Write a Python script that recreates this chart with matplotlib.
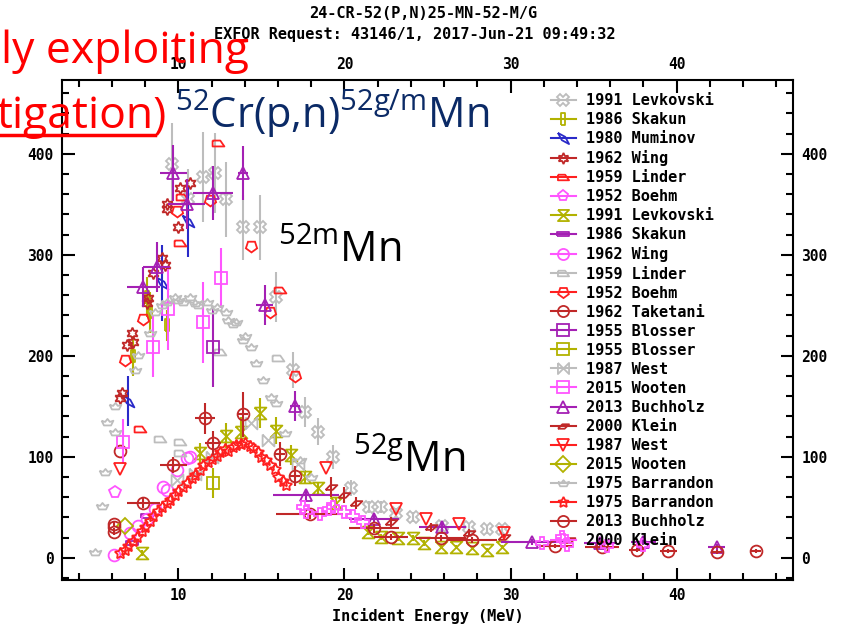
import matplotlib
matplotlib.use('Agg')
import matplotlib.pyplot as plt
from matplotlib.lines import Line2D

# --- data (energy MeV, cross section mb) ---
levk_x = [9.6, 10.6, 11.5, 12.2, 12.9, 13.9, 14.9, 15.9, 16.9, 17.6, 18.4, 19.3, 20.4, 21.5, 22.2, 23.1, 24.1, 25.9, 27.5, 28.6, 29.5]
levk_y = [390, 355, 377, 381, 355, 327, 327, 258, 186, 144, 125, 100, 69, 50, 50, 44, 40, 31, 30, 28, 28]
levk_e = [40, 30, 45, 40, 37, 32, 32, 25, 18, 15, 13, 12, 8, 6, 6, 5, 5, 4, 4, 4, 4]

skak_o_x = [7.3, 8.1, 8.3, 9.3]
skak_o_y = [200, 258, 243, 230]
skak_o_e = [20, 20, 20, 15]

mumi_x = [7.0, 9.0, 10.6]
mumi_y = [155, 272, 333]
mumi_e = [25, 38, 35]

wing_x = [6.5, 6.6, 6.9, 7.2, 7.3, 8.1, 8.2, 8.5, 9.0, 9.2, 9.3, 9.3, 10.0, 10.1, 10.7]
wing_y = [158, 163, 211, 223, 214, 252, 257, 282, 297, 290, 350, 345, 327, 366, 371]

lind_r_x = [7.7, 10.1, 10.2, 12.4, 16.1]
lind_r_y = [127, 312, 357, 411, 265]

boehm_m_x = [6.2]
boehm_m_y = [65]

levk_o_x = [7.8, 11.3, 12.9, 13.8, 14.9, 15.9, 16.8, 17.6, 18.4, 19.5, 21.4, 22.2, 23.2, 24.1, 24.8, 25.8, 26.7, 27.7, 28.6, 29.5]
levk_o_y = [5, 104, 121, 125, 143, 126, 102, 80, 69, 54, 26, 21, 20, 20, 15, 11, 11, 10, 8, 11]
levk_o_e = [3, 10, 12, 14, 15, 13, 10, 7, 6, 5, 3, 3, 3, 3, 3, 2, 2, 2, 2, 2]

skak_p_x = [7.2, 8.1]
skak_p_y = [15, 41]

wing_m_x = [6.1, 7.1, 7.6, 8.1, 8.6, 9.1, 9.3, 9.9, 10.5, 10.7]
wing_m_y = [3, 25, 31, 38, 48, 70, 67, 87, 99, 100]

lind_g_x = [8.9, 10.1, 10.1, 12.5, 16.0]
lind_g_y = [118, 115, 104, 204, 198]

boehm_r_x = [6.8, 7.9, 9.9, 11.9, 14.4, 15.5, 17.0]
boehm_r_y = [196, 236, 343, 354, 309, 243, 180]

take_x = [6.1, 6.5]
take_y = [30, 106]

blos_p_x = [12.1]
blos_p_y = [209]
blos_p_e = [40]

blos_o_x = [12.1]
blos_o_y = [74]
blos_o_e = [15]

west_g_x = [9.9, 11.0, 12.0, 14.4, 15.4, 17.2]
west_g_y = [77, 83, 100, 133, 117, 93]

woot_m_x = [6.7, 8.5, 9.4, 11.5, 12.6]
woot_m_y = [115, 209, 246, 233, 277]
woot_m_e = [22, 30, 40, 40, 30]

buch_p_x = [7.9, 8.7, 9.7, 10.5, 12.1, 13.9, 15.2, 17.0, 17.7, 21.8, 25.9, 31.3, 35.4, 38.0, 42.4]
buch_p_y = [268, 288, 381, 350, 361, 381, 250, 150, 62, 38, 30, 16, 15, 16, 11]
buch_p_ye = [20, 25, 28, 25, 27, 27, 20, 15, 5, 4, 4, 3, 3, 3, 3]
buch_p_xe = [1.0, 0.8, 0.8, 1.1, 1.2, 0.3, 0.5, 0.3, 2.0, 1.5, 1.4, 1.9, 1.0, 0.75, 0.5]

klein_d_x = [19.2, 20.0, 20.7, 22.8, 25.2, 27.5, 29.6, 33.5]
klein_d_y = [70, 62, 54, 35, 30, 25, 21, 18]
klein_d_e = [10, 8, 6, 5, 4, 3, 3, 2]

west_r_x = [6.5, 18.9, 23.1, 24.9, 26.9, 29.6]
west_r_y = [88, 89, 48, 38, 33, 25]

woot_o_x = [6.8]
woot_o_y = [31]

barr_g_x = [5.0, 5.4, 5.6, 5.7, 6.2, 6.2, 7.4, 7.6, 8.3, 8.6, 9.0, 9.3, 9.8, 10.0, 10.3, 10.7, 11.0, 11.2, 11.7, 12.0, 12.3, 12.9, 13.0, 13.3, 13.5, 13.9, 14.0, 14.4, 14.7, 15.1, 15.6, 15.9, 16.4, 17.3, 18.0]
barr_g_y = [6, 51, 85, 134, 125, 150, 186, 201, 223, 243, 250, 253, 258, 255, 253, 258, 252, 250, 253, 245, 248, 243, 235, 231, 233, 216, 220, 209, 193, 176, 159, 153, 124, 97, 80]

barr_r_x = [6.5, 6.8, 7.0, 7.3, 7.5, 7.8, 8.0, 8.3, 8.5, 8.8, 9.0, 9.3, 9.5, 9.8, 10.0, 10.3, 10.5, 10.8, 11.0, 11.3, 11.5, 11.8, 12.0, 12.3, 12.5, 12.8, 13.0, 13.3, 13.5, 13.8, 14.0, 14.3, 14.5, 14.8, 15.0, 15.3, 15.5, 15.8, 16.0, 16.3, 16.5]
barr_r_y = [5, 8, 12, 17, 21, 27, 30, 36, 41, 46, 50, 54, 57, 62, 66, 70, 74, 79, 82, 87, 92, 95, 98, 101, 105, 108, 106, 110, 112, 113, 114, 111, 109, 105, 100, 97, 92, 88, 80, 76, 72]

buch_d_x = [6.1, 6.1, 7.9, 9.7, 11.6, 12.1, 13.9, 16.1, 17.0, 17.9, 21.8, 22.8, 25.8, 27.7, 32.7, 35.5, 37.6, 39.5, 42.4, 44.8]
buch_d_y = [26, 33, 54, 92, 138, 114, 142, 103, 81, 43, 29, 21, 20, 18, 12, 11, 8, 7, 6, 7]
buch_d_ye = [3, 3, 5, 8, 15, 12, 22, 12, 10, 5, 4, 3, 3, 3, 2, 2, 2, 2, 2, 2]
buch_d_xe = [0, 0, 1.0, 0.8, 0.6, 0.5, 0.3, 0.3, 0.3, 2.0, 1.5, 1.0, 1.5, 1.5, 1.0, 1.0, 0.5, 0.5, 0.3, 0.3]

klein_m_x = [17.5, 17.7, 18.5, 19.1, 19.3, 20.0, 20.5, 21.1, 31.9, 33.1, 33.4, 35.8, 38.0]
klein_m_y = [50, 45, 43, 48, 50, 45, 41, 35, 15, 21, 13, 12, 13]

# --- styles ---
GRAY, OLIVE, BLUE = '#bdbdbd', '#b2b200', '#2a2ac8'
DRED, RED, MAG, PURP = '#c02828', '#ff2020', '#ff55ff', '#a420b4'

vrect = [(-0.35, -1), (0.35, -1), (0.35, 1), (-0.35, 1), (-0.35, -1)]
hrect = [(-1, -0.3), (1, -0.3), (1, 0.3), (-1, 0.3), (-1, -0.3)]
hourglass = [(-1, 1), (1, 1), (-1, -1), (1, -1), (-1, 1)]
bowtie = [(-1, 1), (-1, -1), (1, 1), (1, -1), (-1, 1)]
flag = [(-1, 0.5), (0.3, 0.5), (1, -0.5), (-1, -0.5), (-1, 0.5)]
boat = [(-1, 0.3), (-0.4, 0.1), (0, 0.6), (0.4, 0.1), (1, 0.3), (0.6, -0.5), (-0.6, -0.5), (-1, 0.3)]
zig = [(-1, -0.4), (0.2, -0.4), (1, 0.4), (-0.2, 0.4), (-1, -0.4)]
slant = [(-1, 1), (0.3, 0.3), (1, -1), (-0.3, -0.3), (-1, 1)]

series = [
    ('1991 Levkovski', GRAY, 'X', levk_x, levk_y, levk_e, None),
    ('1986 Skakun', OLIVE, vrect, skak_o_x, skak_o_y, skak_o_e, None),
    ('1980 Muminov', BLUE, slant, mumi_x, mumi_y, mumi_e, None),
    ('1962 Wing', DRED, (6, 1, 0), wing_x, wing_y, None, None),
    ('1959 Linder', RED, flag, lind_r_x, lind_r_y, None, None),
    ('1952 Boehm', MAG, 'p', boehm_m_x, boehm_m_y, None, None),
    ('1991 Levkovski', OLIVE, hourglass, levk_o_x, levk_o_y, levk_o_e, None),
    ('1986 Skakun', PURP, hrect, skak_p_x, skak_p_y, None, None),
    ('1962 Wing', MAG, 'o', wing_m_x, wing_m_y, None, None),
    ('1959 Linder', GRAY, flag, lind_g_x, lind_g_y, None, None),
    ('1952 Boehm', RED, (5, 0, 180), boehm_r_x, boehm_r_y, None, None),
    ('1962 Taketani', DRED, 'o', take_x, take_y, None, None),
    ('1955 Blosser', PURP, 's', blos_p_x, blos_p_y, blos_p_e, None),
    ('1955 Blosser', OLIVE, 's', blos_o_x, blos_o_y, blos_o_e, None),
    ('1987 West', GRAY, bowtie, west_g_x, west_g_y, None, None),
    ('2015 Wooten', MAG, 's', woot_m_x, woot_m_y, woot_m_e, None),
    ('2013 Buchholz', PURP, '^', buch_p_x, buch_p_y, buch_p_ye, buch_p_xe),
    ('2000 Klein', DRED, zig, klein_d_x, klein_d_y, klein_d_e, None),
    ('1987 West', RED, 'v', west_r_x, west_r_y, None, None),
    ('2015 Wooten', OLIVE, 'D', woot_o_x, woot_o_y, None, None),
    ('1975 Barrandon', GRAY, boat, barr_g_x, barr_g_y, None, None),
    ('1975 Barrandon', RED, (5, 1, 0), barr_r_x, barr_r_y, None, None),
    ('2013 Buchholz', DRED, 'o', buch_d_x, buch_d_y, buch_d_ye, buch_d_xe),
    ('2000 Klein', MAG, 'P', klein_m_x, klein_m_y, None, None),
]

mono = 'DejaVu Sans Mono'
fig = plt.figure(figsize=(8.46, 6.27), dpi=100)
ax = fig.add_axes([62 / 846, 1 - 580 / 627, 731 / 846, 500 / 627])

handles = []
for lab, col, mk, x, y, ye, xe in series:
    ax.errorbar(x, y, yerr=ye, xerr=xe, fmt='none', ecolor=col, elinewidth=1.5, capsize=0)
    ax.plot(x, y, linestyle='none', marker=mk, color=col, mfc='none', ms=8.5, mew=1.3)
    handles.append(Line2D([], [], color=col, marker=mk, mfc='none', ms=8, mew=1.3, lw=1.5, label=lab))

ax.set_xlim(3, 47)
ax.set_ylim(-22, 473)
ax.set_xticks([10, 20, 30, 40])
ax.set_xticks(range(4, 47, 2), minor=True)
ax.set_yticks([0, 100, 200, 300, 400])
ax.set_yticks(range(-20, 472, 20), minor=True)
ax.tick_params(which='both', direction='in', top=True, right=True, labeltop=True, labelright=True, width=1.5)
ax.tick_params(which='major', length=9, labelsize=10.5, pad=6)
ax.tick_params(which='minor', length=5)
for lbl in ax.get_xticklabels() + ax.get_yticklabels():
    lbl.set_fontfamily(mono); lbl.set_fontweight('bold')
for s in ax.spines.values():
    s.set_linewidth(1.5)
ax.set_xlabel('Incident Energy (MeV)', family=mono, weight='bold', fontsize=11, labelpad=3)

leg = fig.legend(handles=handles, loc='upper left', bbox_to_anchor=(545 / 846, 1 - 87 / 627),
                 frameon=False, prop={'family': mono, 'weight': 'bold', 'size': 11},
                 handlelength=1.6, handletextpad=0.7, labelspacing=0.265, borderaxespad=0)

fig.text(423 / 846, 1 - 13 / 627, '24-CR-52(P,N)25-MN-52-M/G', family=mono, weight='bold', fontsize=11, ha='center', va='center')
fig.text(415 / 846, 1 - 34 / 627, 'EXFOR Request: 43146/1, 2017-Jun-21 09:49:32', family=mono, weight='bold', fontsize=11, ha='center', va='center')

# slide overlay text
ov = 'Open Sans'
plt.rcParams['mathtext.fontset'] = 'custom'
plt.rcParams['mathtext.rm'] = ov
fig.text(1 / 846, 1 - 63 / 627, 'ly exploiting', family=ov, fontsize=32, color='red', va='baseline', zorder=10)
fig.text(-4 / 846, 1 - 128 / 627, 'tigation)', family=ov, fontsize=32, color='red', va='baseline', zorder=10)
fig.add_artist(Line2D([0, 155 / 846], [1 - 135 / 627] * 2, color='red', lw=2.5, zorder=10))
fig.text(175 / 846, 1 - 128 / 627, r'$\mathrm{^{52}}$Cr(p,n)$\mathrm{^{52g/m}}$Mn', family=ov, fontsize=30, color='#0b2a66', va='baseline', zorder=10)
fig.text(278 / 846, 1 - 262 / 627, r'$\mathrm{^{52m}}$Mn', family=ov, fontsize=30, color='black', va='baseline', zorder=10)
fig.text(353 / 846, 1 - 472 / 627, r'$\mathrm{^{52g}}$Mn', family=ov, fontsize=30, color='black', va='baseline', zorder=10)

fig.savefig('out.png', dpi=100)
